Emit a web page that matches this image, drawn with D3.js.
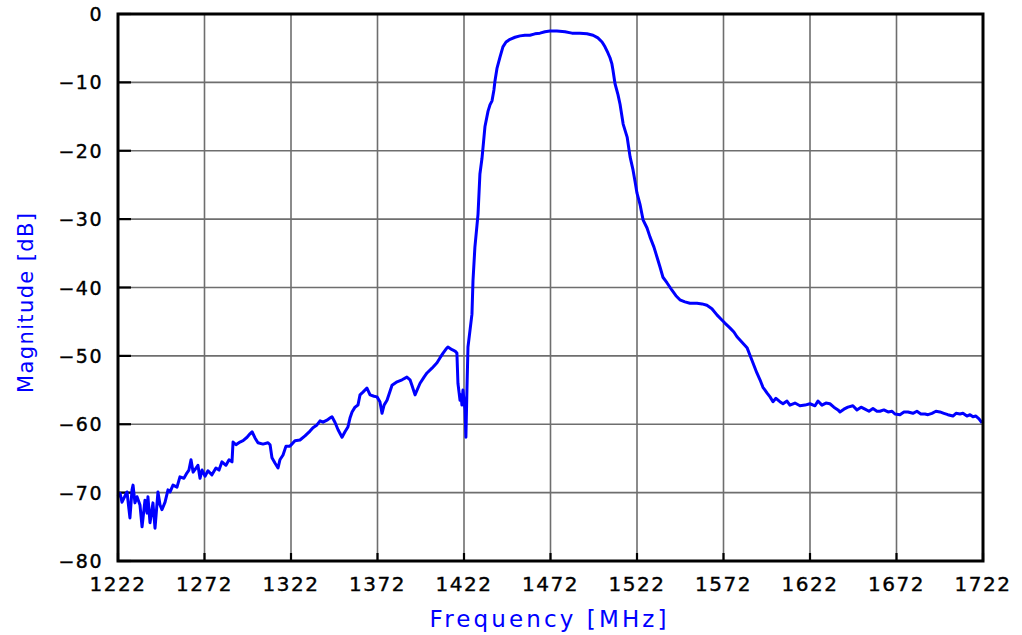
<!DOCTYPE html>
<html>
<head>
<meta charset="utf-8">
<script src="https://cdn.jsdelivr.net/npm/d3@7"></script>
<style>
html,body{margin:0;padding:0;background:#fff;}
svg{display:block;}
</style>
</head>
<body>
<svg id="chart" width="1022" height="635"></svg>
<script>
const xTicks = [1222,1272,1322,1372,1422,1472,1522,1572,1622,1672,1722];
const yTicks = [0,-10,-20,-30,-40,-50,-60,-70,-80];
const xTitle = "Frequency [MHz]";
const yTitle = "Magnitude [dB]";

const freq = [1222.0,1223.2,1224.3,1226.0,1227.2,1228.9,1230.1,1230.7,1231.8,1233.0,1234.7,1235.9,1237.6,1238.8,1239.3,1240.5,1242.2,1243.4,1245.1,1246.3,1247.4,1249.2,1250.9,1252.1,1253.8,1256.1,1257.8,1260.1,1261.9,1263.0,1264.2,1265.4,1267.1,1268.2,1269.4,1270.6,1272.3,1274.0,1276.3,1278.6,1280.4,1282.1,1284.4,1286.2,1287.9,1288.5,1290.2,1292.5,1294.3,1296.6,1298.3,1299.5,1301.2,1302.9,1305.8,1308.7,1309.9,1311.0,1312.8,1314.5,1315.6,1317.4,1319.1,1321.4,1324.3,1327.2,1330.1,1333.0,1334.7,1337.0,1338.8,1340.5,1342.8,1344.5,1345.7,1347.4,1349.2,1351.5,1353.2,1354.9,1356.1,1357.3,1359.0,1360.7,1361.9,1363.6,1365.9,1367.7,1370.0,1371.7,1373.4,1374.6,1375.8,1377.5,1380.4,1383.3,1386.2,1389.0,1390.8,1391.9,1393.7,1395.4,1396.6,1398.9,1400.6,1403.5,1406.4,1408.1,1409.9,1411.6,1412.7,1415.1,1416.8,1417.9,1418.5,1419.7,1420.3,1420.8,1421.4,1422.6,1423.1,1423.7,1424.3,1425.5,1426.6,1427.2,1428.3,1429.5,1430.1,1431.2,1432.4,1433.0,1434.1,1435.9,1437.0,1438.2,1439.3,1439.9,1441.1,1442.8,1444.5,1446.3,1448.6,1451.5,1454.4,1457.2,1460.1,1463.0,1465.9,1468.8,1471.7,1475.7,1480.4,1484.4,1489.0,1493.1,1496.6,1499.4,1501.8,1503.5,1505.2,1506.4,1507.5,1508.1,1509.3,1511.0,1512.2,1514.0,1516.3,1518.0,1519.7,1520.8,1522.0,1523.7,1525.5,1527.8,1529.5,1531.8,1533.5,1535.3,1537.0,1539.3,1542.2,1544.5,1546.8,1549.7,1552.6,1556.7,1559.6,1562.4,1565.3,1568.2,1570.5,1572.8,1575.7,1578.0,1579.8,1582.7,1585.6,1587.3,1589.0,1591.3,1593.1,1594.8,1596.0,1597.1,1598.9,1600.6,1602.3,1604.6,1606.4,1608.7,1610.4,1613.3,1616.2,1619.1,1622.0,1624.9,1626.6,1628.9,1631.2,1633.5,1635.8,1638.2,1639.3,1641.6,1643.9,1646.8,1649.1,1651.5,1653.8,1656.1,1658.4,1660.7,1662.4,1664.7,1667.1,1669.4,1671.1,1674.0,1676.3,1678.6,1681.5,1683.8,1686.1,1688.5,1690.2,1692.5,1694.8,1697.1,1699.4,1701.7,1704.6,1706.4,1708.7,1710.4,1712.7,1714.5,1716.2,1717.9,1719.7,1721.4];

const magnitude = [-70.6,-70.1,-71.4,-70.5,-69.9,-73.7,-69.6,-68.9,-71.5,-70.6,-71.8,-75.0,-71.1,-73.0,-70.6,-74.4,-71.5,-75.2,-69.9,-71.8,-72.5,-71.4,-69.6,-69.9,-68.9,-69.2,-67.7,-67.9,-67.1,-66.7,-65.2,-67.0,-66.4,-66.0,-67.9,-66.7,-67.6,-66.8,-67.4,-66.4,-66.7,-65.5,-66.0,-65.2,-65.5,-62.6,-63.0,-62.6,-62.4,-61.9,-61.4,-61.1,-62.0,-62.7,-62.9,-62.7,-63.0,-64.9,-65.7,-66.4,-65.2,-64.5,-63.2,-63.2,-62.4,-62.3,-61.7,-61.0,-60.5,-60.1,-59.5,-59.7,-59.4,-59.1,-58.9,-59.7,-60.8,-61.9,-61.1,-60.4,-59.1,-58.2,-57.5,-57.2,-55.7,-55.3,-54.7,-55.7,-55.9,-56.0,-56.7,-58.4,-57.2,-56.5,-54.3,-53.8,-53.5,-53.1,-53.5,-54.3,-55.7,-54.7,-54.0,-53.1,-52.5,-51.8,-51.0,-50.3,-49.6,-49.0,-48.7,-49.1,-49.3,-49.6,-54.0,-56.5,-55.7,-57.2,-55.0,-57.9,-61.9,-55.0,-48.7,-46.2,-43.9,-39.0,-34.1,-30.9,-29.3,-23.4,-21.1,-19.5,-16.5,-14.2,-13.3,-12.7,-11.1,-9.8,-7.9,-6.3,-4.8,-4.1,-3.7,-3.4,-3.2,-3.1,-3.1,-2.9,-2.8,-2.6,-2.5,-2.5,-2.6,-2.8,-2.8,-2.9,-3.1,-3.5,-4.1,-4.8,-5.7,-6.4,-7.3,-8.2,-10.2,-11.8,-13.2,-16.1,-18.0,-20.9,-22.8,-24.4,-26.2,-27.8,-30.1,-31.3,-32.6,-34.1,-35.5,-37.0,-38.5,-39.3,-40.4,-41.2,-41.8,-42.1,-42.3,-42.3,-42.4,-42.6,-43.1,-44.0,-44.6,-45.2,-45.9,-46.5,-47.2,-48.0,-48.8,-49.9,-51.0,-52.5,-53.5,-54.6,-55.0,-55.4,-56.0,-56.7,-56.2,-56.7,-57.0,-56.6,-57.2,-56.9,-57.3,-57.2,-57.0,-57.3,-56.6,-57.2,-56.9,-57.0,-57.5,-57.9,-58.2,-57.8,-57.5,-57.3,-57.9,-57.5,-57.8,-58.1,-57.7,-58.1,-58.1,-57.9,-58.2,-58.1,-58.5,-58.6,-58.2,-58.2,-58.4,-58.1,-58.5,-58.5,-58.6,-58.4,-58.1,-58.2,-58.4,-58.6,-58.8,-58.4,-58.5,-58.4,-58.8,-58.6,-58.9,-58.8,-59.2,-59.8];

const W = 1022, H = 635;
const M = {left:118, top:14, right:39, bottom:74};
const iw = W - M.left - M.right, ih = H - M.top - M.bottom;

const svg = d3.select("#chart");
const g = svg.append("g").attr("transform", `translate(${M.left},${M.top})`);

const x = d3.scaleLinear().domain([1222,1722]).range([0, iw]);
const y = d3.scaleLinear().domain([-80,0]).range([ih, 0]);

// grid
g.append("g").selectAll("line").data(xTicks).join("line")
  .attr("x1", d=>x(d)).attr("x2", d=>x(d)).attr("y1",0).attr("y2",ih)
  .attr("stroke","#6e6e6e").attr("stroke-width",1.6);
g.append("g").selectAll("line").data(yTicks).join("line")
  .attr("y1", d=>y(d)).attr("y2", d=>y(d)).attr("x1",0).attr("x2",iw)
  .attr("stroke","#6e6e6e").attr("stroke-width",1.6);

// inward ticks
g.append("g").selectAll("line").data(yTicks).join("line")
  .attr("y1", d=>y(d)).attr("y2", d=>y(d)).attr("x1",0).attr("x2",13)
  .attr("stroke","#000").attr("stroke-width",2.2);
g.append("g").selectAll("line").data(xTicks).join("line")
  .attr("x1", d=>x(d)).attr("x2", d=>x(d)).attr("y1",ih).attr("y2",ih-8)
  .attr("stroke","#000").attr("stroke-width",2.2);

// data line
const pts = freq.map((f,i)=>[f, magnitude[i]]);
const line = d3.line().x(d=>x(d[0])).y(d=>y(d[1]));
g.append("path").datum(pts).attr("d", line)
  .attr("fill","none").attr("stroke","#0000ff").attr("stroke-width",3)
  .attr("stroke-linejoin","round");

// frame
g.append("rect").attr("x",0).attr("y",0).attr("width",iw).attr("height",ih)
  .attr("fill","none").attr("stroke","#000").attr("stroke-width",3);

// tick labels
const fontFam = "'DejaVu Sans', sans-serif";
g.append("g").selectAll("text").data(xTicks).join("text")
  .attr("x", d=>x(d)).attr("y", ih+30)
  .attr("text-anchor","middle").attr("font-family",fontFam).attr("font-size",20)
  .attr("letter-spacing","1.5px").attr("fill","#000")
  .attr("stroke","#000").attr("stroke-width",0.4)
  .text(d=>d);
g.append("g").selectAll("text").data(yTicks).join("text")
  .attr("x", -15).attr("y", d=>y(d)+7)
  .attr("text-anchor","end").attr("font-family",fontFam).attr("font-size",19)
  .attr("letter-spacing","1.5px").attr("fill","#000")
  .attr("stroke","#000").attr("stroke-width",0.4)
  .text(d=> d===0 ? "0" : "\u2212" + Math.abs(d));

// titles
svg.append("text").attr("x", 548).attr("y", 627)
  .attr("text-anchor","middle").attr("font-family",fontFam).attr("font-size",23)
  .attr("fill","#0000ff").attr("textLength",237).attr("lengthAdjust","spacing")
  .text(xTitle);
svg.append("text").attr("transform","translate(33,303) rotate(-90)")
  .attr("text-anchor","middle").attr("font-family",fontFam).attr("font-size",21)
  .attr("fill","#0000ff").attr("textLength",180).attr("lengthAdjust","spacing")
  .text(yTitle);
</script>
</body>
</html>
